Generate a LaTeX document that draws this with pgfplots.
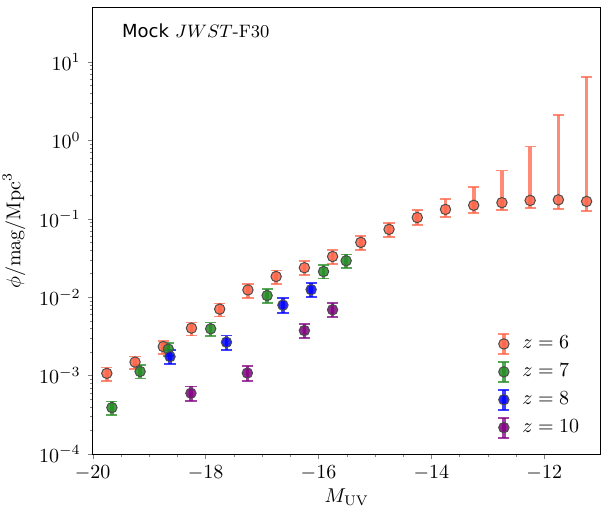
\documentclass[border=0pt]{standalone}
\usepackage{fontspec}
\newfontfamily\djv{DejaVu Sans}
\usepackage{pgfplots}
\pgfplotsset{compat=1.18}
\definecolor{tomato}{HTML}{FF6347}
\definecolor{fgreen}{HTML}{228B22}
\definecolor{mblue}{HTML}{0000FF}
\definecolor{mpurple}{HTML}{800080}

\newcommand\lfimg[1]{%
  \draw[#1, opacity=0.75, line width=1.8pt] (0.3cm,-5pt) -- (0.3cm,5pt);
  \draw[#1, opacity=0.75, line width=0.9pt] (0.3cm-2.8pt,5pt) -- (0.3cm+2.8pt,5pt)
        (0.3cm-2.8pt,-5pt) -- (0.3cm+2.8pt,-5pt);
  \filldraw[fill=#1, fill opacity=0.85, draw=black!70, line width=0.5pt] (0.3cm,0pt) circle (2.6pt);}

\pgfplotsset{
  lf/.style={only marks, mark=*, mark size=2.6pt,
    mark options={draw=black!70, fill=#1, fill opacity=0.85, line width=0.5pt},
    legend image code/.code={\lfimg{#1}},
    error bars/.cd, y dir=both, y explicit,
    error bar style={#1, opacity=0.75, line width=1.8pt},
    error mark options={rotate=90, mark size=2.8pt, line width=0.9pt, #1, opacity=0.75}},
}

\begin{document}
\begin{tikzpicture}
\begin{axis}[
    scale only axis,
    width=254pt, height=223.35pt,
    ymode=log,
    xmin=-20, xmax=-11,
    ymin=1e-4, ymax=50,
    xtick={-20,-18,-16,-14,-12},
    minor x tick num=3,
    ytick={1e-4,1e-3,1e-2,1e-1,1,10},
    tick pos=left, tick align=outside,
    major tick length=2.5pt, minor tick length=1.5pt,
    xlabel={$M_{\rm UV}$},
    xlabel style={yshift=3pt},
    ylabel={$\phi/\mathrm{mag}/\mathrm{Mpc}^3$},
    legend style={draw=none, fill=none, at={(axis description cs:0.784,0.283)}, anchor=north west,
        row sep=2pt, font=\normalsize,
        /tikz/every odd column/.append style={column sep=4pt}},
    legend cell align=left,
]
\addplot+[lf=tomato] coordinates {
  (-19.75,1.07e-3) += (0,0.20e-3) -= (0,0.213e-3)
  (-19.25,1.49e-3) += (0,0.26e-3) -= (0,0.28e-3)
  (-18.75,2.35e-3) += (0,0.40e-3) -= (0,0.45e-3)
  (-18.25,4.04e-3) += (0,0.72e-3) -= (0,0.79e-3)
  (-17.75,7.06e-3) += (0,1.27e-3) -= (0,1.38e-3)
  (-17.25,1.24e-2) += (0,0.22e-2) -= (0,0.255e-2)
  (-16.75,1.84e-2) += (0,0.36e-2) -= (0,0.35e-2)
  (-16.25,2.38e-2) += (0,0.49e-2) -= (0,0.46e-2)
  (-15.75,3.31e-2) += (0,0.70e-2) -= (0,0.63e-2)
  (-15.25,5.01e-2) += (0,0.97e-2) -= (0,0.97e-2)
  (-14.75,7.35e-2) += (0,1.42e-2) -= (0,1.48e-2)
  (-14.25,0.104) += (0,0.0245) -= (0,0.0213)
  (-13.75,0.132) += (0,0.049) -= (0,0.026)
  (-13.25,0.149) += (0,0.104) -= (0,0.030)
  (-12.75,0.161) += (0,0.252) -= (0,0.031)
  (-12.25,0.172) += (0,0.665) -= (0,0.034)
  (-11.75,0.175) += (0,1.955) -= (0,0.040)
  (-11.25,0.167) += (0,6.34) -= (0,0.042)
};
\addlegendentry{$z=6$}
\addplot+[lf=fgreen] coordinates {
  (-19.66,3.91e-4) += (0,0.78e-4) -= (0,0.74e-4)
  (-19.16,1.13e-3) += (0,0.23e-3) -= (0,0.21e-3)
  (-18.66,2.18e-3) += (0,0.44e-3) -= (0,0.41e-3)
  (-17.91,3.96e-3) += (0,0.79e-3) -= (0,0.75e-3)
  (-16.91,1.05e-2) += (0,0.21e-2) -= (0,0.20e-2)
  (-15.91,2.13e-2) += (0,0.43e-2) -= (0,0.40e-2)
  (-15.51,2.92e-2) += (0,0.60e-2) -= (0,0.56e-2)
};
\addlegendentry{$z=7$}
\addplot+[lf=mblue] coordinates {
  (-18.63,1.75e-3) += (0,0.38e-3) -= (0,0.35e-3)
  (-17.63,2.67e-3) += (0,0.58e-3) -= (0,0.53e-3)
  (-16.63,7.94e-3) += (0,1.75e-3) -= (0,1.59e-3)
  (-16.13,1.25e-2) += (0,0.28e-2) -= (0,0.25e-2)
};
\addlegendentry{$z=8$}
\addplot+[lf=mpurple] coordinates {
  (-18.26,5.97e-4) += (0,1.31e-4) -= (0,1.19e-4)
  (-17.26,1.08e-3) += (0,0.24e-3) -= (0,0.22e-3)
  (-16.25,3.76e-3) += (0,0.83e-3) -= (0,0.75e-3)
  (-15.75,6.92e-3) += (0,1.52e-3) -= (0,1.38e-3)
};
\addlegendentry{$z=10$}
\node[anchor=base west, inner sep=0pt, font=\fontsize{9}{11}\selectfont] at (axis description cs:0.057,0.933)
  {{\djv Mock} $JWST$-F30};
\end{axis}
\pgfresetboundingbox
\path[use as bounding box] ([shift={(-46.35pt,-27.5pt)}]current axis.south west)
  rectangle ([shift={(6.65pt,3.65pt)}]current axis.north east);
\end{tikzpicture}
\end{document}
